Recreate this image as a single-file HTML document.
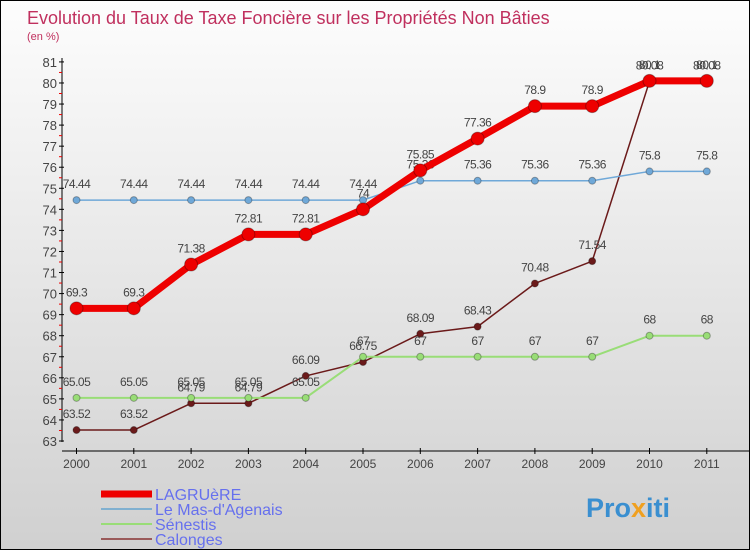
<!DOCTYPE html>
<html><head><meta charset="utf-8"><style>
body{margin:0;}
#c{width:750px;height:550px;position:relative;box-sizing:border-box;border:1px solid #000;background:linear-gradient(#fdfdfd,#d0d0d0);font-family:"Liberation Sans",sans-serif;overflow:hidden}
</style></head><body>
<div id="c">
<svg id="s" width="750" height="550" style="position:absolute;left:0;top:0;font-family:'Liberation Sans',sans-serif">
<text x="26" y="23" font-size="18" fill="#c0305e">Evolution du Taux de Taxe Foncière sur les Propriétés Non Bâties</text>
<text x="26" y="39" font-size="11" fill="#c0305e">(en %)</text>
<text x="585" y="516" font-size="27" font-weight="bold" fill="#3a8fd0">Pro<tspan fill="#f0a020">x</tspan>iti</text>
</svg>
</div>
<script>
const years=["2000","2001","2002","2003","2004","2005","2006","2007","2008","2009","2010","2011"];
const lagruere=[69.3,69.3,71.38,72.81,72.81,74,75.85,77.36,78.9,78.9,80.1,80.1];
const mas=[74.44,74.44,74.44,74.44,74.44,74.44,75.36,75.36,75.36,75.36,75.8,75.8];
const senestis=[65.05,65.05,65.05,65.05,65.05,67,67,67,67,67,68,68];
const calonges=[63.52,63.52,64.79,64.79,66.09,66.75,68.09,68.43,70.48,71.54,80.08,80.08];
const yTicks=[63,64,65,66,67,68,69,70,71,72,73,74,75,76,77,78,79,80,81];
const seriesNames=["LAGRUèRE","Le Mas-d'Agenais","Sénestis","Calonges"];
const s=document.getElementById('s');const NS='http://www.w3.org/2000/svg';
function X(i){return 75.5+i*57.3;}
function Y(v){return 440-(v-63)*21.06;}
function el(t,a,p){const e=document.createElementNS(NS,t);for(const k in a)e.setAttribute(k,a[k]);(p||s).appendChild(e);return e;}
let ax=el('line',{x1:61,y1:57,x2:61,y2:441,stroke:'#000','stroke-width':1});

let xa=el('line',{x1:61,y1:450,x2:750,y2:450,stroke:'#000','stroke-width':1});

yTicks.forEach(v=>{el('line',{x1:58,x2:63,y1:Y(v),y2:Y(v),stroke:'#000'});
if(v<81)el('line',{x1:58,x2:61,y1:Y(v+0.5),y2:Y(v+0.5),stroke:'#e00'});
const t=el('text',{x:56,y:Y(v)+5,'text-anchor':'end','font-size':13,fill:'#444'});t.textContent=v;
});
years.forEach((y,i)=>{el('line',{x1:X(i),x2:X(i),y1:447,y2:453,stroke:'#000'});
const t=el('text',{x:X(i),y:467,'text-anchor':'middle','font-size':12,fill:'#444'});t.textContent=y;
});
function series(data,color,w,r,name,labels){
const g=el('g',{});
el('polyline',{points:data.map((v,i)=>X(i)+','+Y(v)).join(' '),fill:'none',stroke:color,'stroke-width':w,'stroke-linejoin':'round'},g);
data.forEach((v,i)=>{const c=el('circle',{cx:X(i),cy:Y(v),r:r,fill:color,stroke:'rgba(0,0,0,0.3)'},g);

if(labels){const t=el('text',{x:X(i),y:Y(v)-12,'text-anchor':'middle','font-size':12,fill:'#444','letter-spacing':'-0.5'},g);t.textContent=v;
}});}
series(calonges,'#6b1a1a',1.5,3.5,'calonges',true);
series(senestis,'#99dd77',2,3.5,'senestis',true);
series(mas,'#6fa8d8',1.5,3.5,'mas-d-agenais',true);
series(lagruere,'#ee0000',7,6.5,'lagruere',true);
const lc=['#ee0000','#80b0d0','#99dd77','#9a5a5a'],lw=[7,2,2,2];
seriesNames.forEach((n,i)=>{const g=el('g',{});
const y=493+i*15;el('line',{x1:100,x2:151,y1:y,y2:y,stroke:lc[i],'stroke-width':lw[i]},g);
const t=el('text',{x:154,y:y+6,'font-size':16,fill:'#6670ee'},g);t.textContent=n;});
</script>
</body></html>
